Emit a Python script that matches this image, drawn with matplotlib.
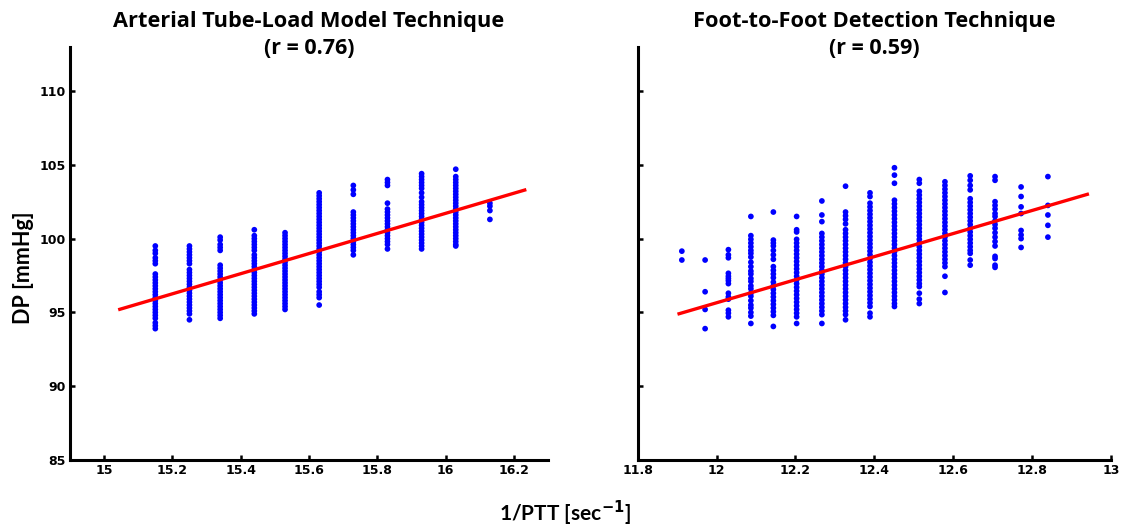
import matplotlib
matplotlib.use("Agg")
import matplotlib.pyplot as plt

# ---------------- data ----------------
# Left panel: Arterial Tube-Load Model technique, 1/PTT columns and DP values
atl_x = [15.15, 15.25, 15.34, 15.44, 15.53, 15.63, 15.73, 15.83, 15.93, 16.03, 16.13]
atl_y = [
    [99.5, 99.2, 99.0, 98.7, 98.5, 98.3, 97.6, 97.4, 97.2, 97.0, 96.8, 96.6, 96.4, 96.2,
     96.0, 95.8, 95.6, 95.4, 95.2, 95.0, 94.8, 94.6, 94.3, 94.1, 93.9],
    [99.5, 99.3, 99.1, 98.9, 98.7, 98.5, 98.3, 97.9, 97.7, 97.5, 97.3, 97.1, 96.9, 96.7,
     96.5, 96.3, 96.1, 95.9, 95.7, 95.5, 95.3, 95.1, 94.9, 94.5],
    [100.1, 99.9, 99.6, 99.4, 99.2, 98.2, 98.0, 97.8, 97.6, 97.4, 97.2, 97.0, 96.8, 96.6,
     96.4, 96.2, 96.0, 95.8, 95.6, 95.4, 95.2, 95.0, 94.8, 94.6],
    [100.6, 100.2, 100.0, 99.8, 99.6, 99.4, 99.2, 98.9, 98.7, 98.5, 98.3, 98.1, 97.9, 97.7,
     97.5, 97.3, 97.1, 96.9, 96.7, 96.5, 96.3, 96.1, 95.9, 95.7, 95.5, 95.3, 95.1, 94.9],
    [100.4, 100.2, 100.0, 99.8, 99.6, 99.4, 99.2, 99.0, 98.8, 98.6, 98.4, 98.2, 98.0, 97.8,
     97.6, 97.4, 97.2, 97.0, 96.8, 96.6, 96.4, 96.2, 96.0, 95.8, 95.6, 95.4, 95.2],
    [103.1, 102.9, 102.7, 102.5, 102.3, 102.1, 101.9, 101.7, 101.5, 101.3, 101.1, 100.9,
     100.7, 100.5, 100.3, 100.1, 99.9, 99.7, 99.5, 99.3, 99.1, 98.9, 98.7, 98.5, 98.3,
     98.1, 97.9, 97.7, 97.5, 97.3, 97.1, 96.9, 96.7, 96.4, 96.2, 96.0, 95.5],
    [103.6, 103.3, 103.0, 101.8, 101.6, 101.4, 101.2, 101.0, 100.8, 100.6, 100.4, 100.2,
     100.0, 99.8, 99.6, 99.4, 99.2, 98.9],
    [104.0, 103.8, 103.6, 102.4, 102.0, 101.8, 101.6, 101.4, 101.2, 101.0, 100.8, 100.6,
     100.4, 100.2, 100.0, 99.8, 99.6, 99.3],
    [104.4, 104.2, 104.0, 103.8, 103.6, 103.4, 103.1, 102.8, 102.5, 102.3, 102.1, 101.9,
     101.7, 101.5, 101.3, 101.1, 100.9, 100.7, 100.5, 100.3, 100.1, 99.9, 99.7, 99.5, 99.3],
    [104.7, 104.2, 104.0, 103.8, 103.6, 103.4, 103.2, 103.0, 102.8, 102.6, 102.4, 102.2,
     102.0, 101.8, 101.6, 101.4, 101.2, 101.0, 100.8, 100.6, 100.4, 100.2, 100.0, 99.8,
     99.6, 99.5],
    [102.4, 102.2, 101.9, 101.3],
]
atl_line_x = [15.046, 16.232]
atl_line_y = [95.21, 103.29]

# Right panel: Foot-to-Foot detection technique
ftf_x = [11.912, 11.971, 12.030, 12.087, 12.144, 12.203, 12.267, 12.327, 12.389,
         12.451, 12.514, 12.579, 12.643, 12.706, 12.772, 12.840]
ftf_y = [
    [99.15, 98.55],
    [98.55, 96.4, 95.2, 93.9],
    [99.25, 98.9, 98.7, 97.65, 97.45, 97.3, 97.15, 96.95, 96.3, 96.05, 95.9, 95.15,
     94.95, 94.7],
    [101.5, 100.2, 99.95, 99.7, 99.45, 99.2, 99.0, 98.75, 98.4, 98.1, 97.8, 97.6, 97.3,
     97.1, 96.8, 96.6, 96.3, 96.1, 95.8, 95.5, 95.3, 95.0, 94.75, 94.25],
    [101.8, 99.9, 99.7, 99.5, 99.2, 98.9, 98.6, 98.1, 97.85, 97.6, 97.35, 97.05, 96.8,
     96.55, 96.3, 96.05, 95.8, 95.55, 95.3, 95.05, 94.8, 94.05],
    [101.5, 100.6, 100.45, 99.95, 99.7, 99.45, 99.2, 98.95, 98.7, 98.45, 98.2, 97.95,
     97.7, 97.45, 97.2, 96.95, 96.7, 96.45, 96.2, 95.95, 95.7, 95.45, 95.2, 94.95,
     94.7, 94.25],
    [102.55, 101.6, 101.15, 100.35, 100.1, 99.85, 99.6, 99.35, 99.1, 98.85, 98.6, 98.35,
     98.1, 97.85, 97.6, 97.35, 97.1, 96.85, 96.6, 96.35, 96.1, 95.85, 95.6, 95.35,
     95.1, 94.85, 94.25],
    [103.55, 101.8, 101.55, 101.3, 101.0, 100.6, 100.35, 100.1, 99.85, 99.6, 99.35,
     99.1, 98.85, 98.6, 98.35, 98.1, 97.85, 97.6, 97.35, 97.1, 96.85, 96.6, 96.35,
     96.1, 95.85, 95.6, 95.35, 95.1, 94.85, 94.5],
    [103.1, 102.85, 102.4, 102.15, 101.9, 101.65, 101.4, 101.15, 100.9, 100.65, 100.4,
     100.15, 99.9, 99.65, 99.4, 99.15, 98.9, 98.65, 98.4, 98.15, 97.9, 97.65, 97.4,
     97.15, 96.9, 96.65, 96.4, 96.15, 95.9, 95.65, 95.4, 94.95, 94.7],
    [104.8, 104.3, 103.75, 102.6, 102.35, 102.1, 101.85, 101.6, 101.35, 101.1, 100.85,
     100.6, 100.35, 100.1, 99.85, 99.6, 99.35, 99.1, 98.85, 98.6, 98.35, 98.1, 97.85,
     97.6, 97.35, 97.1, 96.85, 96.6, 96.35, 96.1, 95.85, 95.6, 95.4],
    [104.0, 103.75, 103.2, 102.95, 102.7, 102.45, 102.2, 101.95, 101.7, 101.45, 101.2,
     100.95, 100.7, 100.45, 100.2, 99.95, 99.7, 99.45, 99.2, 98.95, 98.7, 98.45, 98.2,
     97.95, 97.7, 97.45, 97.2, 96.95, 96.75, 96.3, 95.9, 95.6],
    [103.85, 103.6, 103.35, 103.1, 102.85, 102.6, 102.35, 102.1, 101.85, 101.6, 101.35,
     101.1, 100.85, 100.6, 100.35, 100.1, 99.85, 99.6, 99.35, 99.1, 98.85, 98.6, 98.35,
     98.1, 97.45, 96.35],
    [104.25, 103.95, 103.6, 103.3, 102.7, 102.45, 102.2, 101.95, 101.7, 101.45, 101.2,
     100.95, 100.7, 100.45, 100.2, 99.95, 99.7, 99.45, 99.2, 99.0, 98.55, 98.2],
    [104.2, 103.95, 102.5, 102.25, 102.0, 101.7, 101.5, 101.2, 100.95, 100.7, 100.4,
     100.1, 99.8, 99.5, 98.8, 98.65, 98.2, 98.05],
    [103.5, 102.85, 102.15, 101.7, 100.55, 100.25, 100.0, 99.4],
    [104.2, 102.25, 101.6, 100.9, 100.1],
]
ftf_line_x = [11.905, 12.94]
ftf_line_y = [94.91, 103.0]

titles = ["Arterial Tube-Load Model Technique", "Foot-to-Foot Detection Technique"]
subtitles = ["(r = 0.76)", "(r = 0.59)"]
left_xticks = [15, 15.2, 15.4, 15.6, 15.8, 16, 16.2]
left_xticklabels = ["15", "15.2", "15.4", "15.6", "15.8", "16", "16.2"]
right_xticks = [11.8, 12, 12.2, 12.4, 12.6, 12.8, 13]
right_xticklabels = ["11.8", "12", "12.2", "12.4", "12.6", "12.8", "13"]
yticks = [85, 90, 95, 100, 105, 110]
yticklabels = ["85", "90", "95", "100", "105", "110"]

# ---------------- figure ----------------
W, H = 1130, 529
fig = plt.figure(figsize=(W / 100, H / 100), dpi=100)
ax1 = fig.add_axes([0.0619, 0.1304, 0.4230, 0.7813])
ax2 = fig.add_axes([0.5643, 0.1304, 0.4189, 0.7813])

TXT = ["Lato", "DejaVu Sans"]
TTL = ["Open Sans", "DejaVu Sans"]

def style(ax, xlim, xt, xtl, show_ylabels):
    ax.set_xlim(*xlim)
    ax.set_ylim(85, 113)
    for s in ["top", "right"]:
        ax.spines[s].set_visible(False)
    for s in ["left", "bottom"]:
        ax.spines[s].set_linewidth(2.2)
    ax.set_xticks(xt)
    ax.set_xticklabels(xtl)
    ax.set_yticks(yticks)
    if show_ylabels:
        ax.set_yticklabels(yticklabels)
    else:
        ax.set_yticklabels([])
    ax.tick_params(direction="in", length=3.5, width=1.8, labelsize=9, pad=3)
    for lab in ax.get_xticklabels() + ax.get_yticklabels():
        lab.set_fontweight("bold")
        lab.set_family("DejaVu Sans")

for ax, xs, ys, lx, ly, title, sub in [
    (ax1, atl_x, atl_y, atl_line_x, atl_line_y, titles[0], subtitles[0]),
    (ax2, ftf_x, ftf_y, ftf_line_x, ftf_line_y, titles[1], subtitles[1]),
]:
    px, py = [], []
    for xv, col in zip(xs, ys):
        px.extend([xv] * len(col))
        py.extend(col)
    ax.scatter(px, py, s=17, color="#0000ff", edgecolors="none", zorder=2)
    ax.plot(lx, ly, color="#ff0000", linewidth=2.4, zorder=3)
    pos = ax.get_position()
    cx = (pos.x0 + pos.x1) / 2
    fig.text(cx, 1 - 21 / H, title, ha="center", va="center",
             fontsize=15.7, fontweight="bold", family=TTL)
    fig.text(cx, 1 - 49 / H, sub, ha="center", va="center",
             fontsize=15.5, fontweight="bold", family=TTL)

style(ax1, (14.9, 16.3), left_xticks, left_xticklabels, True)
style(ax2, (11.8, 13.0), right_xticks, right_xticklabels, False)

fig.text(24 / W, 1 - 268 / H, "DP [mmHg]", rotation=90, ha="center", va="center",
         fontsize=15.5, fontweight="bold", family=TXT)
fig.text(0.5, 1 - 513 / H, "1/PTT [sec$^{\\mathbf{-1}}$]", ha="center", va="center",
         fontsize=15, fontweight="bold", family=TXT)

fig.savefig("out.png", dpi=100)
